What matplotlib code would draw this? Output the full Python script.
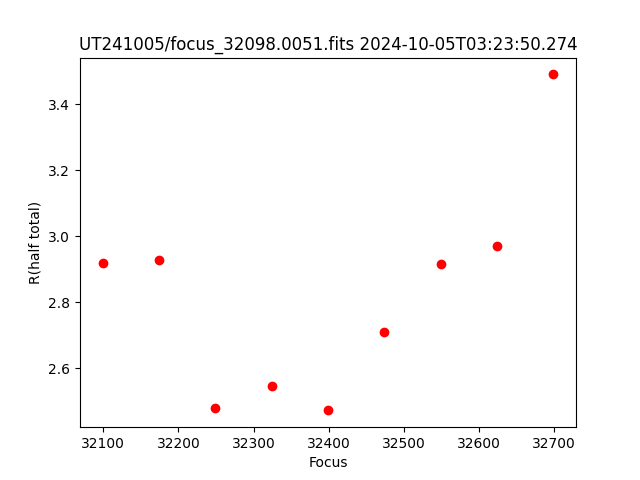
import matplotlib
matplotlib.use("Agg")
import matplotlib.pyplot as plt

focus = [32099, 32174, 32249, 32324, 32399, 32474, 32549, 32624, 32699]
r_half = [2.920, 2.929, 2.479, 2.547, 2.473, 2.711, 2.917, 2.971, 3.491]

fig, ax = plt.subplots(figsize=(6.4, 4.8), dpi=100)
ax.plot(focus, r_half, 'o', color='red')
ax.set_xlabel("Focus")
ax.set_ylabel("R(half total)")
ax.set_title("UT241005/focus_32098.0051.fits 2024-10-05T03:23:50.274")
fig.savefig("out.png")
